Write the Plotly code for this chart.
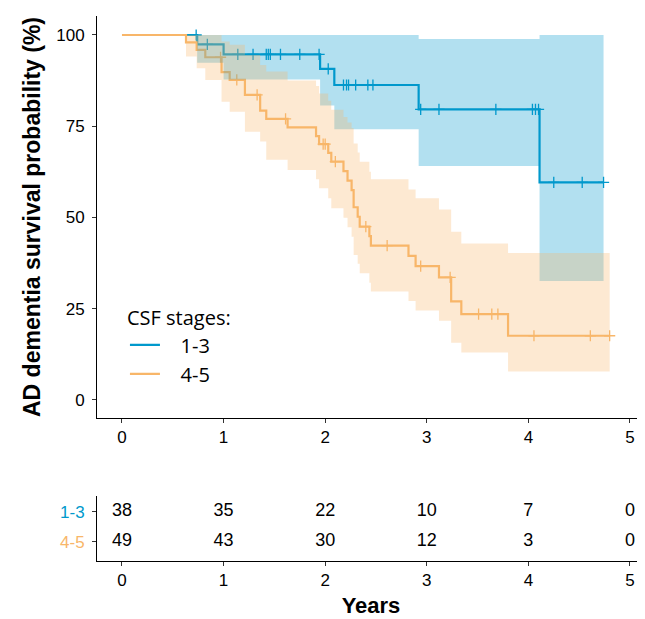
import numpy as np
import plotly.graph_objects as go

# ---- data ----
blue = "rgb(0,153,204)"
orange = "rgb(248,182,105)"

# CSF stages 1-3: step times (years), survival (%), 95% CI
time_13 = [0, 0.74, 1.00, 1.95, 2.09, 2.92, 4.11, 4.74]
surv_13 = [100, 97.4, 94.7, 90.7, 86.3, 79.6, 59.6, 59.6]
low_13 = [100, 92.4, 87.8, 80.7, 74.2, 64.1, 32.6, 32.6]
up_13 = [100, 100, 100, 100, 100, 98.9, 100, 100]
cens_13 = [0.73, 0.84, 1.14, 1.29, 1.42, 1.44, 1.46, 1.56, 1.75, 1.94, 2.03,
           2.18, 2.21, 2.23, 2.30, 2.42, 2.47, 2.94, 3.12, 3.68, 4.04, 4.07,
           4.10, 4.25, 4.53, 4.74]

# CSF stages 4-5
time_45 = [0, 0.63, 0.735, 0.82, 0.98, 1.06, 1.21, 1.36, 1.42, 1.63, 1.91,
           1.94, 2.03, 2.06, 2.18, 2.22, 2.26, 2.28, 2.32, 2.34, 2.435, 2.45,
           2.82, 2.89, 3.12, 3.24, 3.34, 3.80, 4.80]
surv_45 = [100, 98.0, 95.9, 93.9, 89.8, 87.7, 83.6, 79.3, 77.0, 74.7, 72.3,
           70.1, 67.7, 65.3, 62.7, 60.1, 57.5, 52.8, 50.2, 47.5, 44.9, 42.3,
           39.5, 36.7, 33.6, 27.0, 23.5, 17.6, 17.6]
low_45 = [100, 94.1, 90.9, 87.7, 81.7, 79.0, 73.5, 70.8, 65.8, 63.0, 60.5,
          58.0, 55.3, 52.5, 49.9, 47.3, 44.7, 39.7, 37.3, 34.7, 32.1, 29.7,
          27.1, 24.5, 21.7, 15.7, 13.0, 7.8, 7.8]
up_45 = [100, 100, 100, 100, 98.2, 97.3, 94.5, 91.8, 90.0, 87.5, 86.0,
         84.0, 82.0, 79.5, 77.5, 76.0, 74.5, 70.3, 67.8, 65.3, 62.5, 60.5,
         57.7, 55.3, 52.2, 46.1, 42.9, 40.3, 40.3]
cens_45 = [0.97, 1.13, 1.33, 1.61, 1.98, 2.00, 2.10, 2.40, 2.61, 2.94, 3.23,
           3.51, 3.64, 3.70, 4.055, 4.61, 4.80]

# numbers at risk
risk_years = [0, 1, 2, 3, 4, 5]
risk_13 = [38, 35, 22, 10, 7, 0]
risk_45 = [49, 43, 30, 12, 3, 0]


def step_value(times, surv, t):
    idx = np.searchsorted(times, t, side="right") - 1
    return np.asarray(surv)[idx]


def band_fill(col):
    return col.replace("rgb", "rgba").replace(")", ",0.3)")


fig = go.Figure()

series = [
    ("1-3", time_13, surv_13, low_13, up_13, cens_13, blue),
    ("4-5", time_45, surv_45, low_45, up_45, cens_45, orange),
]
gap = "\u00a0\u00a0\u00a0"

# survival lines + censor marks first, bands on top (like ggsurvplot)
for name, t, s, lo, hi, cens, col in series:
    fig.add_trace(go.Scatter(x=t, y=s, mode="lines", line_shape="hv",
                             line=dict(color=col, width=2.2), name=gap + name))
for name, t, s, lo, hi, cens, col in series:
    fig.add_trace(go.Scatter(x=cens, y=step_value(t, s, cens), mode="markers",
                             marker=dict(symbol="cross-thin", size=8,
                                         line=dict(color=col, width=1.3)),
                             showlegend=False, hoverinfo="skip"))
for name, t, s, lo, hi, cens, col in series:
    fig.add_trace(go.Scatter(x=t, y=lo, mode="lines", line_shape="hv",
                             line=dict(width=0), showlegend=False,
                             hoverinfo="skip"))
    fig.add_trace(go.Scatter(x=t, y=hi, mode="lines", line_shape="hv",
                             line=dict(width=0), fill="tonexty",
                             fillcolor=band_fill(col), showlegend=False,
                             hoverinfo="skip"))

# risk table
for vals, yv in [(risk_13, 1), (risk_45, 0)]:
    fig.add_trace(go.Scatter(x=risk_years, y=[yv] * len(vals), mode="text",
                             text=[str(v) for v in vals],
                             textfont=dict(size=18, color="black",
                                           family="Liberation Sans"),
                             xaxis="x2", yaxis="y2", showlegend=False,
                             hoverinfo="skip"))

axis_style = dict(showline=True, linecolor="black", linewidth=1,
                  ticks="outside", ticklen=4, tickcolor="#333",
                  showgrid=False, zeroline=False, automargin=False,
                  tickfont=dict(size=17, color="black",
                                family="Liberation Sans"))

# page body has an 8px margin, so the figure is 8px smaller than the window
fig.update_layout(
    width=637, height=611,
    margin=dict(l=89, r=0, t=0, b=0),
    plot_bgcolor="white", paper_bgcolor="white",
    font=dict(family="Liberation Sans", color="black"),
    xaxis=dict(domain=[0, 1], range=[-0.246, 5.148], anchor="y",
               tickvals=risk_years, **axis_style),
    yaxis=dict(domain=[0.329, 0.9869], range=[-4.93, 105.2], anchor="x",
               tickvals=[0, 25, 50, 75, 100], ticklabelstandoff=4,
               title=dict(text="<b>AD dementia survival probability (%)</b>",
                          font=dict(size=23), standoff=9),
               **axis_style),
    xaxis2=dict(domain=[0, 1], range=[-0.246, 5.148], anchor="y2",
                tickvals=risk_years,
                title=dict(text="<b>Years</b>", font=dict(size=22),
                           standoff=8),
                **axis_style),
    yaxis2=dict(domain=[0.0954, 0.2013], range=[-0.633, 1.523], anchor="x2",
                tickvals=[1, 0], ticklabelstandoff=4,
                ticktext=[f'<span style="color:{blue}">1-3</span>',
                          f'<span style="color:{orange}">4-5</span>'],
                **axis_style),
    legend=dict(x=0.051, y=0.523, xanchor="left", yanchor="top",
                traceorder="normal",
                title=dict(text="CSF stages:",
                           font=dict(size=20, family="Open Sans")),
                font=dict(size=20, family="Open Sans"),
                bgcolor="rgba(0,0,0,0)", itemwidth=30),
)

fig.write_html("out.html")
